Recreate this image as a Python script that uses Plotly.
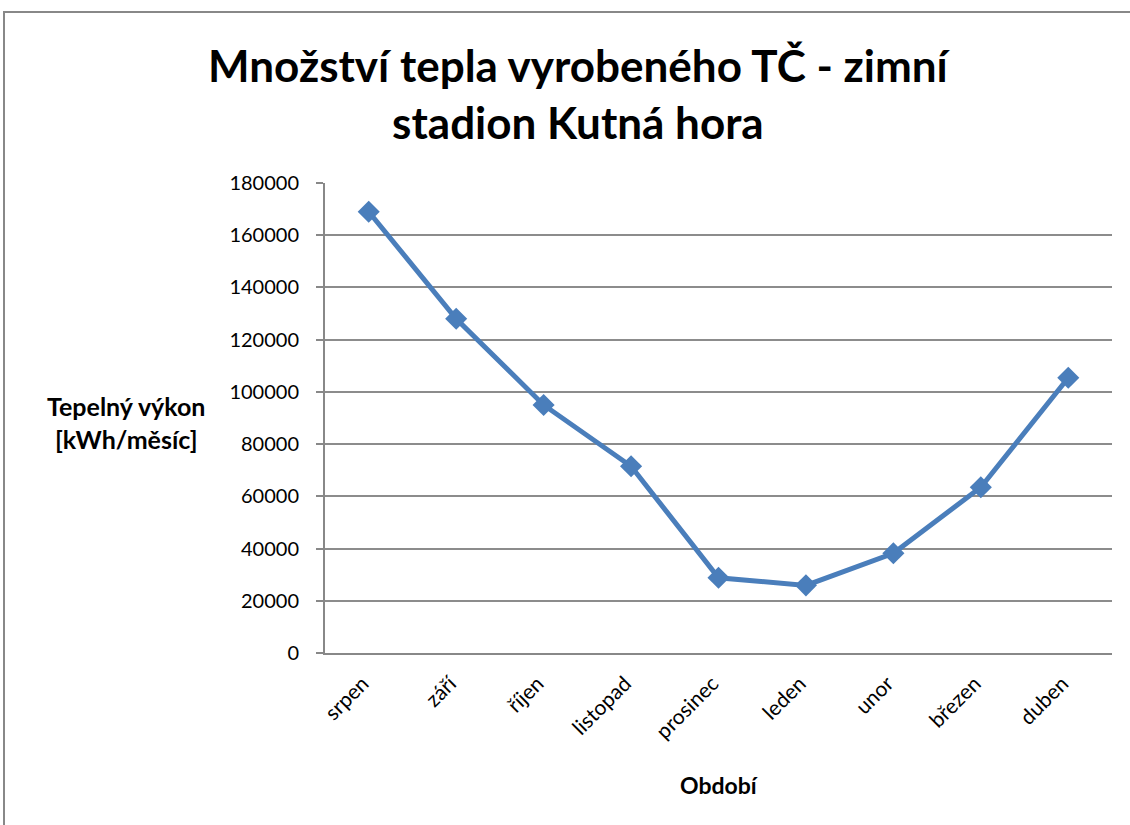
import plotly.graph_objects as go

categories = ["srpen", "září", "říjen", "listopad", "prosinec", "leden", "unor", "březen", "duben"]
values = [169000, 128000, 95000, 71500, 28800, 25900, 38200, 63500, 105400]
y_ticks = [0, 20000, 40000, 60000, 80000, 100000, 120000, 140000, 160000, 180000]

title_text = "Množství tepla vyrobeného TČ - zimní<br>stadion Kutná hora"
y_title = "Tepelný výkon<br>[kWh/měsíc]"
x_title = "Období"

W, H = 1130, 825
OFF = 0  # body margin removed via post_script
# plot area in screenshot coords: x 325..1112, y 183..653
L = 325 - OFF
T = 183 - OFF
R = W - (1112 - OFF)
B = H - (653 - OFF)

def px_x(px):
    return (px - OFF - L) / (W - L - R)

def px_y(py):
    return (H - B - (py - OFF)) / (H - T - B)

fig = go.Figure()
fig.add_trace(go.Scatter(
    x=list(range(len(categories))), y=values, mode="lines+markers",
    line=dict(color="#4a7ebb", width=5),
    marker=dict(symbol="diamond", size=17, color="#4a7ebb"),
    showlegend=False,
))

fig.update_layout(
    width=W, height=H,
    margin=dict(l=L, r=R, t=T, b=B),
    paper_bgcolor="white", plot_bgcolor="white",
    font=dict(family="Lato, Open Sans, sans-serif", color="black"),
    xaxis=dict(
        tickmode="array", tickvals=list(range(len(categories))), ticktext=categories,
        range=[-0.5, len(categories) - 0.5], tickangle=-45,
        tickfont=dict(size=21), showgrid=False, zeroline=False,
        showline=True, linecolor="#888888", linewidth=2, ticks="",
        ticklabelshift=-6, ticklabelstandoff=8,
    ),
    yaxis=dict(
        tickmode="array", tickvals=y_ticks, ticktext=[str(v) for v in y_ticks],
        range=[0, 180000], tickfont=dict(size=20),
        showgrid=True, gridcolor="#8c8c8c", gridwidth=1.5, zeroline=False,
        showline=True, linecolor="#888888", linewidth=2,
        ticks="outside", ticklen=7, tickcolor="#888888", tickwidth=1.5,
        ticklabelstandoff=13,
    ),
    annotations=[
        dict(text="<b>" + title_text + "</b>", x=px_x(579), y=px_y(93),
             xref="paper", yref="paper", showarrow=False, xanchor="center", yanchor="middle",
             font=dict(size=44, family="Lato, sans-serif"), align="center"),
        dict(text="<b>" + y_title + "</b>", x=px_x(126), y=px_y(422),
             xref="paper", yref="paper", showarrow=False, xanchor="center", yanchor="middle",
             font=dict(size=25), align="center"),
        dict(text="<b>" + x_title + "</b>", x=px_x(719), y=px_y(785),
             xref="paper", yref="paper", showarrow=False, xanchor="center", yanchor="middle",
             font=dict(size=23)),
    ],
    shapes=[
        dict(type="rect", xref="paper", yref="paper",
             x0=px_x(4), x1=px_x(1150), y0=px_y(850), y1=px_y(12),
             line=dict(color="#888888", width=2), fillcolor="rgba(0,0,0,0)", layer="below"),
    ],
)

fig.write_html("out.html", config={"displayModeBar": False},
               post_script="document.body.style.margin='0px';")
